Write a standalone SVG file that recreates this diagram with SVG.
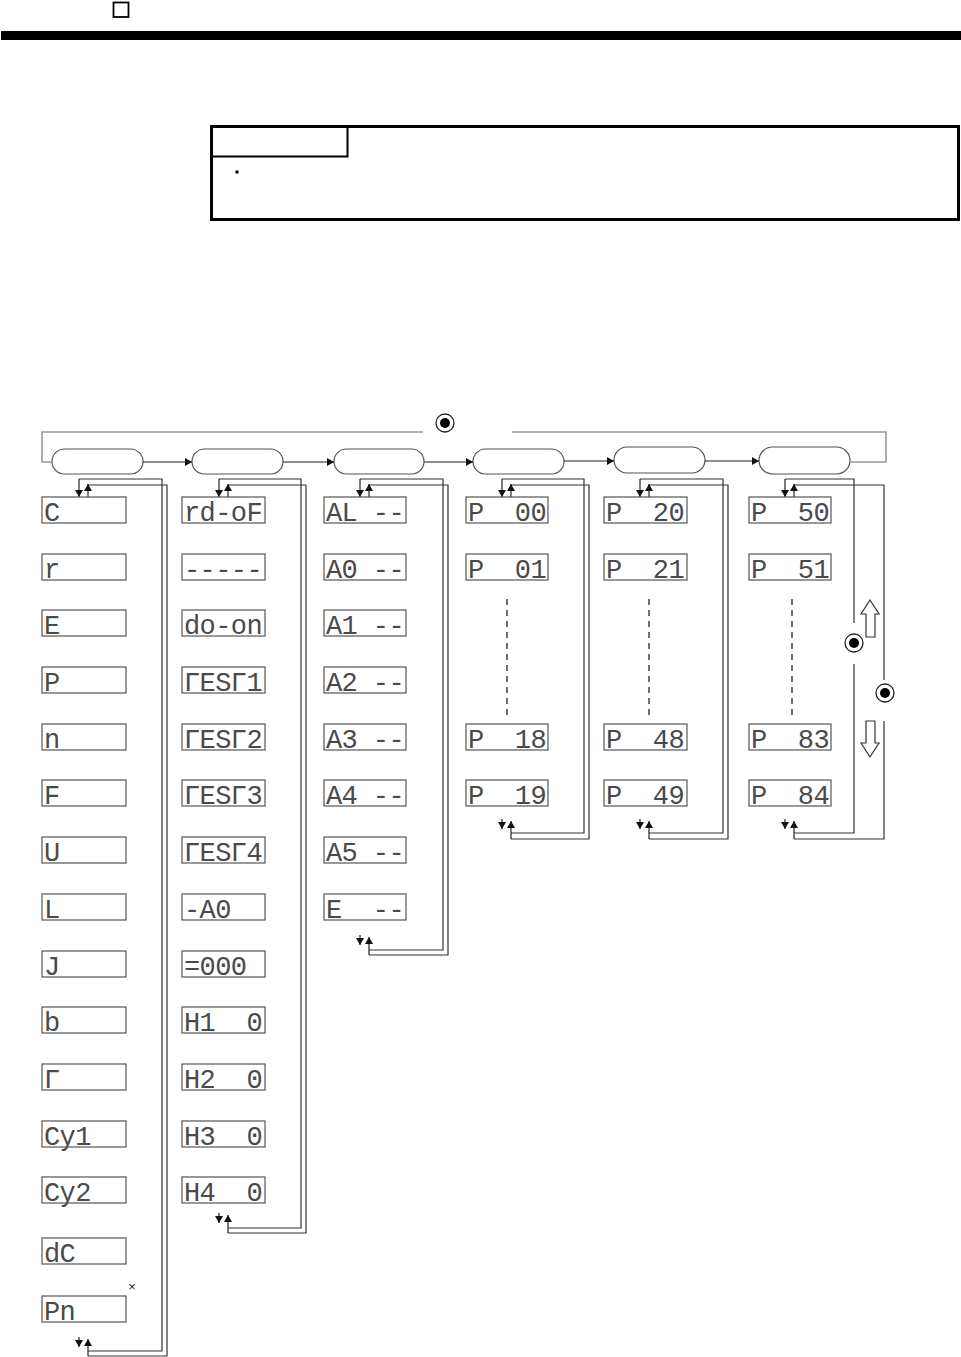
<svg xmlns="http://www.w3.org/2000/svg" width="961" height="1357" viewBox="0 0 961 1357">
<style>
.d{fill:#fff;stroke:#555;stroke-width:1.2}
.s{font-family:"Liberation Mono","DejaVu Sans Mono",monospace;font-size:27px;letter-spacing:-0.6px;fill:#4a4a4a;white-space:pre}
.pill{fill:#fff;stroke:#555;stroke-width:1.2}
.ln{fill:none;stroke:#333;stroke-width:1.2}
.ar{fill:none;stroke:#222;stroke-width:1.2;marker-end:url(#ah)}
.lp{fill:none;stroke:#999;stroke-width:1.6}
.ds{fill:none;stroke:#222;stroke-width:1.3;stroke-dasharray:6 5}
.ha{fill:#fff;stroke:#333;stroke-width:1.2}
</style>
<defs>
<marker id="ah" markerUnits="userSpaceOnUse" markerWidth="7" markerHeight="8" refX="7" refY="4" orient="auto">
<path d="M0,0 L7,4 L0,8 z" fill="#111"/>
</marker>
<g id="btn"><circle r="9" fill="#fff" stroke="#222" stroke-width="1.3"/><circle r="5" fill="#000"/></g>
</defs>

<!-- header -->
<g id="header">
<rect x="113.5" y="2.5" width="15" height="14.5" fill="none" stroke="#000" stroke-width="1.8"/>
<rect x="1" y="31" width="960" height="9" fill="#000"/>
</g>

<!-- point box -->
<g id="point">
<rect x="211.5" y="126.5" width="747" height="93" fill="none" stroke="#000" stroke-width="3"/>
<polyline points="211.5,156.5 347.5,156.5 347.5,126.5" fill="none" stroke="#000" stroke-width="2"/>
<rect x="235.5" y="170.5" width="3" height="3" fill="#000"/>
</g>

<!-- mode pills -->
<g id="m1"><rect class="pill" x="52" y="449" width="91" height="25" rx="12.5"/></g>
<g id="m2"><rect class="pill" x="192" y="449" width="91" height="25" rx="12.5"/></g>
<g id="m3"><rect class="pill" x="334" y="449" width="90" height="25" rx="12.5"/></g>
<g id="m4"><rect class="pill" x="473" y="449" width="91" height="25" rx="12.5"/></g>
<g id="m5"><rect class="pill" x="614" y="447" width="91" height="26" rx="13"/></g>
<g id="m6"><rect class="pill" x="759" y="447" width="91" height="27" rx="13.5"/></g>

<g id="btn-mode"><use href="#btn" x="445" y="423"/></g>
<g id="btn-up"><use href="#btn" x="854" y="643"/></g>
<g id="btn-down"><use href="#btn" x="885" y="693"/></g>

<g id="connectors">
<!-- mode loop -->
<path class="lp" d="M423 432 H42 V462 H52"/>
<path class="lp" d="M512 432 H886 V462 H850"/>
<line class="ar" x1="143" y1="462" x2="192" y2="462"/>
<line class="ar" x1="283" y1="462" x2="334" y2="462"/>
<line class="ar" x1="424" y1="462" x2="473" y2="462"/>
<line class="ar" x1="564" y1="461" x2="614" y2="461"/>
<line class="ar" x1="705" y1="461" x2="759" y2="461"/>

<!-- col1 -->
<polyline class="ln" points="88,1351 162,1351 162,479 79,479"/>
<polyline class="ln" points="88,1356 167,1356 167,485 88,485"/>
<line class="ar" x1="79" y1="479" x2="79" y2="497"/>
<line class="ar" x1="88" y1="497" x2="88" y2="484"/>
<line class="ar" x1="79" y1="1337" x2="79" y2="1347"/>
<line class="ar" x1="88" y1="1356" x2="88" y2="1339"/>

<!-- col2 -->
<polyline class="ln" points="228,1228 301,1228 301,479 219,479"/>
<polyline class="ln" points="228,1233 306,1233 306,485 228,485"/>
<line class="ar" x1="219" y1="479" x2="219" y2="497"/>
<line class="ar" x1="228" y1="497" x2="228" y2="484"/>
<line class="ar" x1="219" y1="1213" x2="219" y2="1223"/>
<line class="ar" x1="228" y1="1233" x2="228" y2="1215"/>

<!-- col3 -->
<polyline class="ln" points="369,950 443,950 443,479 360,479"/>
<polyline class="ln" points="369,955 448,955 448,485 369,485"/>
<line class="ar" x1="360" y1="479" x2="360" y2="497"/>
<line class="ar" x1="369" y1="497" x2="369" y2="484"/>
<line class="ar" x1="360" y1="935" x2="360" y2="945"/>
<line class="ar" x1="369" y1="955" x2="369" y2="937"/>

<!-- col4 -->
<polyline class="ln" points="511,833 584,833 584,479 502,479"/>
<polyline class="ln" points="511,839 589,839 589,485 511,485"/>
<line class="ar" x1="502" y1="479" x2="502" y2="497"/>
<line class="ar" x1="511" y1="497" x2="511" y2="484"/>
<line class="ar" x1="502" y1="819" x2="502" y2="829"/>
<line class="ar" x1="511" y1="839" x2="511" y2="821"/>
<line class="ds" x1="507" y1="599" x2="507" y2="718"/>

<!-- col5 -->
<polyline class="ln" points="649,833 723,833 723,479 640,479"/>
<polyline class="ln" points="649,839 728,839 728,485 649,485"/>
<line class="ar" x1="640" y1="479" x2="640" y2="497"/>
<line class="ar" x1="649" y1="497" x2="649" y2="484"/>
<line class="ar" x1="640" y1="819" x2="640" y2="829"/>
<line class="ar" x1="649" y1="839" x2="649" y2="821"/>
<line class="ds" x1="649" y1="599" x2="649" y2="718"/>

<!-- col6 -->
<polyline class="ln" points="854,623 854,479 785,479"/>
<polyline class="ln" points="854,664 854,833 794,833"/>
<polyline class="ln" points="884,680 884,485 794,485"/>
<polyline class="ln" points="884,721 884,839 794,839"/>
<line class="ar" x1="785" y1="479" x2="785" y2="497"/>
<line class="ar" x1="794" y1="497" x2="794" y2="484"/>
<line class="ar" x1="785" y1="819" x2="785" y2="829"/>
<line class="ar" x1="794" y1="839" x2="794" y2="821"/>
<line class="ds" x1="792" y1="599" x2="792" y2="718"/>

<polygon class="ha" points="870,600 879,614 875,614 875,637 866,637 866,614 861,614"/>
<polygon class="ha" points="866,721 875,721 875,743 879,743 870,757 861,743 866,743"/>
</g>

<!-- column 1 -->
<g id="c1-1"><rect class="d" x="42" y="497" width="84" height="26"/><text class="s" x="44" y="520.5">C</text></g>
<g id="c1-2"><rect class="d" x="42" y="554" width="84" height="26"/><text class="s" x="44" y="577.5">r</text></g>
<g id="c1-3"><rect class="d" x="42" y="610" width="84" height="26"/><text class="s" x="44" y="633.5">E</text></g>
<g id="c1-4"><rect class="d" x="42" y="667" width="84" height="26"/><text class="s" x="44" y="690.5">P</text></g>
<g id="c1-5"><rect class="d" x="42" y="724" width="84" height="26"/><text class="s" x="44" y="747.5">n</text></g>
<g id="c1-6"><rect class="d" x="42" y="780" width="84" height="26"/><text class="s" x="44" y="803.5">F</text></g>
<g id="c1-7"><rect class="d" x="42" y="837" width="84" height="26"/><text class="s" x="44" y="860.5">U</text></g>
<g id="c1-8"><rect class="d" x="42" y="894" width="84" height="26"/><text class="s" x="44" y="917.5">L</text></g>
<g id="c1-9"><rect class="d" x="42" y="951" width="84" height="26"/><text class="s" x="44" y="974.5">J</text></g>
<g id="c1-10"><rect class="d" x="42" y="1007" width="84" height="26"/><text class="s" x="44" y="1030.5">b</text></g>
<g id="c1-11"><rect class="d" x="42" y="1064" width="84" height="26"/><text class="s" x="44" y="1087.5">Γ</text></g>
<g id="c1-12"><rect class="d" x="42" y="1121" width="84" height="26"/><text class="s" x="44" y="1144.5">Cy1</text></g>
<g id="c1-13"><rect class="d" x="42" y="1177" width="84" height="26"/><text class="s" x="44" y="1200.5">Cy2</text></g>
<g id="c1-14"><rect class="d" x="42" y="1238" width="84" height="26"/><text class="s" x="44" y="1261.5">dC</text></g>
<g id="c1-15"><rect class="d" x="42" y="1296" width="84" height="26"/><text class="s" x="44" y="1319.5">Pn</text></g>
<text x="132" y="1291" font-family="Liberation Sans, Arial, sans-serif" font-size="13" text-anchor="middle" fill="#222">×</text>

<!-- column 2 -->
<g id="c2-1"><rect class="d" x="182" y="497" width="83" height="26"/><text class="s" x="184" y="520.5">rd-oF</text></g>
<g id="c2-2"><rect class="d" x="182" y="554" width="83" height="26"/><text class="s" x="184" y="577.5">-----</text></g>
<g id="c2-3"><rect class="d" x="182" y="610" width="83" height="26"/><text class="s" x="184" y="633.5">do-on</text></g>
<g id="c2-4"><rect class="d" x="182" y="667" width="83" height="26"/><text class="s" x="184" y="690.5">ΓESΓ1</text></g>
<g id="c2-5"><rect class="d" x="182" y="724" width="83" height="26"/><text class="s" x="184" y="747.5">ΓESΓ2</text></g>
<g id="c2-6"><rect class="d" x="182" y="780" width="83" height="26"/><text class="s" x="184" y="803.5">ΓESΓ3</text></g>
<g id="c2-7"><rect class="d" x="182" y="837" width="83" height="26"/><text class="s" x="184" y="860.5">ΓESΓ4</text></g>
<g id="c2-8"><rect class="d" x="182" y="894" width="83" height="26"/><text class="s" x="184" y="917.5">-A0</text></g>
<g id="c2-9"><rect class="d" x="182" y="951" width="83" height="26"/><text class="s" x="184" y="974.5">=000</text></g>
<g id="c2-10"><rect class="d" x="182" y="1007" width="83" height="26"/><text class="s" x="184" y="1030.5">H1  0</text></g>
<g id="c2-11"><rect class="d" x="182" y="1064" width="83" height="26"/><text class="s" x="184" y="1087.5">H2  0</text></g>
<g id="c2-12"><rect class="d" x="182" y="1121" width="83" height="26"/><text class="s" x="184" y="1144.5">H3  0</text></g>
<g id="c2-13"><rect class="d" x="182" y="1177" width="83" height="26"/><text class="s" x="184" y="1200.5">H4  0</text></g>

<!-- column 3 -->
<g id="c3-1"><rect class="d" x="324" y="497" width="82" height="26"/><text class="s" x="326" y="520.5">AL --</text></g>
<g id="c3-2"><rect class="d" x="324" y="554" width="82" height="26"/><text class="s" x="326" y="577.5">A0 --</text></g>
<g id="c3-3"><rect class="d" x="324" y="610" width="82" height="26"/><text class="s" x="326" y="633.5">A1 --</text></g>
<g id="c3-4"><rect class="d" x="324" y="667" width="82" height="26"/><text class="s" x="326" y="690.5">A2 --</text></g>
<g id="c3-5"><rect class="d" x="324" y="724" width="82" height="26"/><text class="s" x="326" y="747.5">A3 --</text></g>
<g id="c3-6"><rect class="d" x="324" y="780" width="82" height="26"/><text class="s" x="326" y="803.5">A4 --</text></g>
<g id="c3-7"><rect class="d" x="324" y="837" width="82" height="26"/><text class="s" x="326" y="860.5">A5 --</text></g>
<g id="c3-8"><rect class="d" x="324" y="894" width="82" height="26"/><text class="s" x="326" y="917.5">E  --</text></g>

<!-- column 4 -->
<g id="c4-1"><rect class="d" x="466" y="497" width="82" height="26"/><text class="s" x="468" y="520.5">P  00</text></g>
<g id="c4-2"><rect class="d" x="466" y="554" width="82" height="26"/><text class="s" x="468" y="577.5">P  01</text></g>
<g id="c4-3"><rect class="d" x="466" y="724" width="82" height="26"/><text class="s" x="468" y="747.5">P  18</text></g>
<g id="c4-4"><rect class="d" x="466" y="780" width="82" height="26"/><text class="s" x="468" y="803.5">P  19</text></g>

<!-- column 5 -->
<g id="c5-1"><rect class="d" x="604" y="497" width="83" height="26"/><text class="s" x="606" y="520.5">P  20</text></g>
<g id="c5-2"><rect class="d" x="604" y="554" width="83" height="26"/><text class="s" x="606" y="577.5">P  21</text></g>
<g id="c5-3"><rect class="d" x="604" y="724" width="83" height="26"/><text class="s" x="606" y="747.5">P  48</text></g>
<g id="c5-4"><rect class="d" x="604" y="780" width="83" height="26"/><text class="s" x="606" y="803.5">P  49</text></g>

<!-- column 6 -->
<g id="c6-1"><rect class="d" x="749" y="497" width="82" height="26"/><text class="s" x="751" y="520.5">P  50</text></g>
<g id="c6-2"><rect class="d" x="749" y="554" width="82" height="26"/><text class="s" x="751" y="577.5">P  51</text></g>
<g id="c6-3"><rect class="d" x="749" y="724" width="82" height="26"/><text class="s" x="751" y="747.5">P  83</text></g>
<g id="c6-4"><rect class="d" x="749" y="780" width="82" height="26"/><text class="s" x="751" y="803.5">P  84</text></g>
</svg>
